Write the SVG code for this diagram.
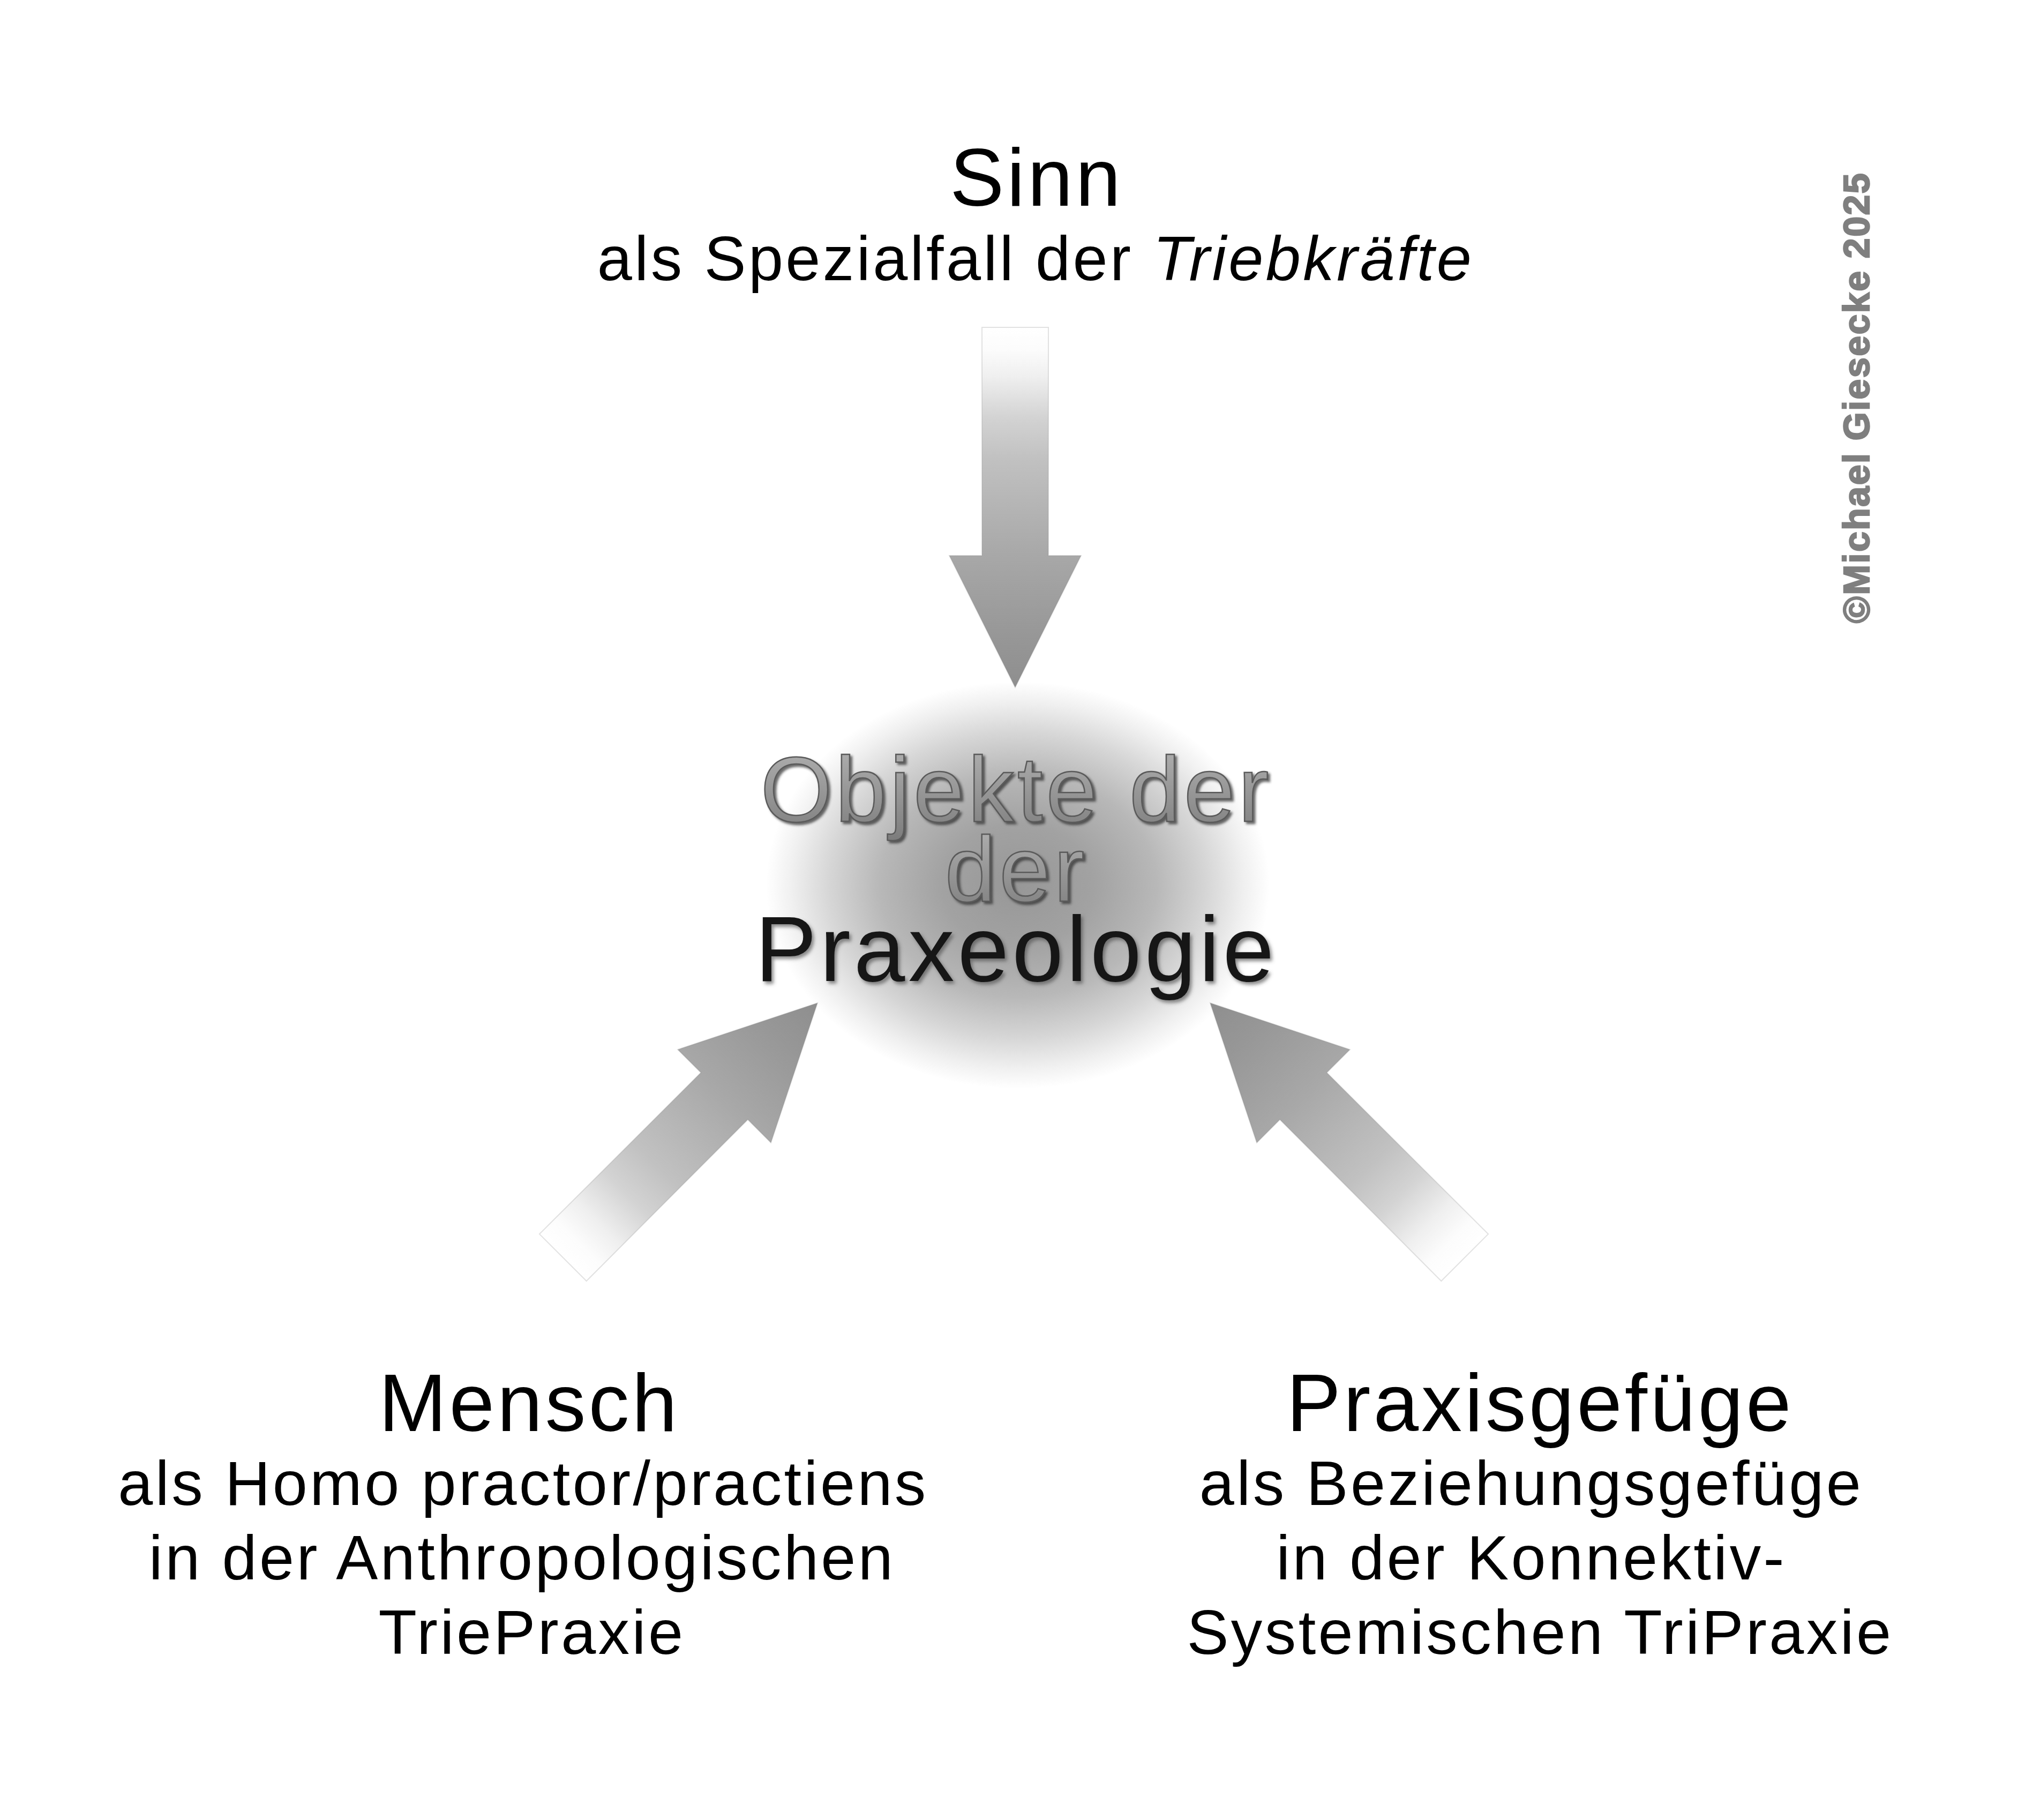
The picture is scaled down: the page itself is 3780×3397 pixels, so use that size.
<svg xmlns="http://www.w3.org/2000/svg" width="3780" height="3397" viewBox="0 0 3780 3397">
  <defs>
    <style>
      .t { font-family: "Liberation Sans", Arial, sans-serif; fill: #000; text-anchor: middle; }
      .title { font-size: 152px; letter-spacing: 5px; }
      .sub { font-size: 117px; letter-spacing: 4.4px; }
      .obj { font-family: "Liberation Sans", Arial, sans-serif; font-size: 172px; letter-spacing: 6px; text-anchor: middle; fill: url(#embossFill); stroke: #5a5a5a; stroke-width: 2.5px; }
      .prax { font-family: "Liberation Sans", Arial, sans-serif; font-size: 172px; letter-spacing: 6px; text-anchor: middle; fill: #141414; }
      .copy { font-family: "Liberation Sans", Arial, sans-serif; font-weight: bold; font-size: 68px; letter-spacing: 2.5px; fill: #7f7f7f; stroke: #7f7f7f; stroke-width: 2.5px; text-anchor: middle; }
      .arrow { fill: url(#arrowGrad); stroke: #8a8a8a; stroke-opacity: 0.25; stroke-width: 2px; }
    </style>
    <radialGradient id="sphereGrad" cx="0.5" cy="0.5" r="0.5">
      <stop offset="0" stop-color="#979797"/>
      <stop offset="0.3" stop-color="#a2a2a2"/>
      <stop offset="0.55" stop-color="#b8b8b8"/>
      <stop offset="0.75" stop-color="#d6d6d6"/>
      <stop offset="0.9" stop-color="#f0f0f0"/>
      <stop offset="1" stop-color="#ffffff"/>
    </radialGradient>
    <linearGradient id="arrowGrad" gradientUnits="userSpaceOnUse" x1="0" y1="-672" x2="0" y2="0">
      <stop offset="0" stop-color="#ffffff"/>
      <stop offset="0.06" stop-color="#fcfcfc"/>
      <stop offset="0.137" stop-color="#efefef"/>
      <stop offset="0.25" stop-color="#d3d3d3"/>
      <stop offset="0.365" stop-color="#c1c1c1"/>
      <stop offset="0.63" stop-color="#a8a8a8"/>
      <stop offset="0.857" stop-color="#979797"/>
      <stop offset="1" stop-color="#8e8e8e"/>
    </linearGradient>
    <linearGradient id="embossFill" x1="0" y1="0" x2="0" y2="1">
      <stop offset="0" stop-color="#b4b4b4"/>
      <stop offset="1" stop-color="#7c7c7c"/>
    </linearGradient>
    <filter id="shadowGray" x="-5%" y="-30%" width="110%" height="160%">
      <feGaussianBlur in="SourceAlpha" stdDeviation="2" result="b"/>
      <feOffset in="b" dx="4" dy="4" result="o"/>
      <feFlood flood-color="#2a2a2a" flood-opacity="0.7" result="c"/>
      <feComposite in="c" in2="o" operator="in" result="s"/>
      <feMerge><feMergeNode in="s"/><feMergeNode in="SourceGraphic"/></feMerge>
    </filter>
    <filter id="shadowDark" x="-5%" y="-30%" width="110%" height="160%">
      <feGaussianBlur in="SourceAlpha" stdDeviation="3" result="b"/>
      <feOffset in="b" dx="4" dy="5" result="o"/>
      <feFlood flood-color="#505050" flood-opacity="0.65" result="c"/>
      <feComposite in="c" in2="o" operator="in" result="s"/>
      <feMerge><feMergeNode in="s"/><feMergeNode in="SourceGraphic"/></feMerge>
    </filter>
    <path id="arrowShape" d="M -62 -672 L 62 -672 L 62 -246 L 123 -246 L 0 0 L -123 -246 L -62 -246 Z"/>
  </defs>

  <rect x="0" y="0" width="3780" height="3397" fill="#ffffff"/>

  <g id="node-center">
    <ellipse cx="1900" cy="1652" rx="470" ry="380" fill="url(#sphereGrad)"/>
    <text class="obj" x="1897" y="1533" filter="url(#shadowGray)">Objekte der</text>
    <text class="obj" x="1897" y="1682" filter="url(#shadowGray)">der</text>
    <text class="prax" x="1897" y="1831" filter="url(#shadowDark)">Praxeologie</text>
  </g>

  <g id="connectors">
    <use href="#arrowShape" class="arrow" transform="translate(1895,1283)"/>
    <use href="#arrowShape" class="arrow" transform="translate(1526,1872) rotate(-135)"/>
    <use href="#arrowShape" class="arrow" transform="translate(2259,1872) rotate(135)"/>
  </g>

  <g id="node-sinn">
    <text class="t title" x="1935" y="384">Sinn</text>
    <text class="t sub" x="1933" y="523">als Spezialfall der <tspan font-style="italic">Triebkräfte</tspan></text>
  </g>

  <g id="node-mensch">
    <text class="t title" x="988" y="2671">Mensch</text>
    <text class="t sub">
      <tspan x="995" y="2809">als Homo practor/practiens</tspan>
      <tspan x="993" y="2948">in der Anthropologischen</tspan>
      <tspan x="993" y="3087">TriePraxie</tspan>
    </text>
  </g>

  <g id="node-praxisgefuege">
    <text class="t title" x="2875" y="2671">Praxisgefüge</text>
    <text class="t sub">
      <tspan x="2877" y="2809">als Beziehungsgefüge</tspan>
      <tspan x="2877" y="2948">in der Konnektiv-</tspan>
      <tspan x="2875" y="3087">Systemischen TriPraxie</tspan>
    </text>
  </g>

  <g id="copyright">
    <text class="copy" transform="translate(3489,742) rotate(-90)">©Michael Giesecke 2025</text>
  </g>
</svg>
